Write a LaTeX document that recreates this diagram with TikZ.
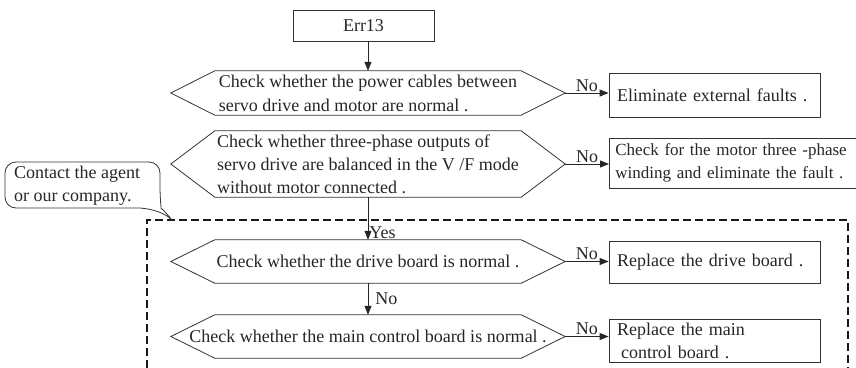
\documentclass[tikz,border=0pt]{standalone}
\usepackage{fontspec}
\setmainfont{Liberation Serif}
\usetikzlibrary{arrows.meta,calc}
\newcommand{\hexout}[1]{\draw[hexline] (#1.west) -- ([xshift=44pt]#1.north west) -- ([xshift=-44pt]#1.north east) -- (#1.east) -- ([xshift=-44pt]#1.south east) -- ([xshift=44pt]#1.south west) -- cycle;}
\begin{document}
\begin{tikzpicture}[x=1pt,y=-1pt,
  every node/.style={font=\fontsize{18}{23}\selectfont, text=black!85},
  hexa/.style={rectangle, minimum width=394pt, inner sep=0pt, align=left},
  hexline/.style={draw=black!80, line width=0.8pt},
  box/.style={rectangle, draw=black!80, line width=0.8pt, minimum width=211pt, text width=195pt, inner xsep=8pt, align=left},
  arr/.style={-{Triangle[length=9pt,width=7pt]}, line width=0.8pt, draw=black!85},
  lbl/.style={inner sep=1pt},
  dashbox/.style={draw=black!90, line width=1.8pt, dash pattern=on 8pt off 4pt},
  bubble/.style={draw=black!80, line width=0.8pt}
]
\clip (0,0) rectangle (856,367);

% dashed region
\draw[dashbox] (147,380) -- (147,220) -- (848,220) -- (848,380);

% callout
\draw[bubble] (140,208) [rounded corners=11pt] -- (5,208) -- (5,162) -- (160,162) -- (160,198) [sharp corners]
  .. controls (161,207) and (167,214) .. (172,220)
  .. controls (165,213) and (153,209) .. (140,208) -- cycle;
\node[align=left, anchor=west, inner sep=0pt] (note) at (14,186) {Contact the agent\\or our company.};

% main nodes
\node[draw=black!80, line width=0.8pt, minimum width=141pt, minimum height=31pt, inner sep=0pt] (err) at (363.5,25.5) {Err13};

\node[hexa, minimum height=44pt, font=\fontsize{18}{24}\selectfont] (c1) at (368,93)
  {Check whether the power cables between\\servo drive and motor are normal .};
\hexout{c1}
\node[box, minimum height=44pt] (r1) at (714.5,95) {Eliminate external faults .};

\node[hexa, minimum height=66pt] (c2) at (368,164)
  {Check whether three-phase outputs of\\servo drive are balanced in the V /F mode\\without motor connected .};
\hexout{c2}
\node[box, anchor=west, minimum width=271pt, text width=259pt, inner xsep=6pt, minimum height=50pt,
      font=\fontsize{17}{23}\selectfont] (r2) at (609,163)
  {Check for the motor three -phase\\winding and eliminate the fault .};

\node[hexa, minimum height=43pt] (c3) at (368,261.5)
  {Check whether the drive board is normal .};
\hexout{c3}
\node[box, minimum height=42pt] (r3) at (714.5,262) {Replace the drive board .};

\node[hexa, minimum height=43pt] (c4) at (368,336.5)
  {Check whether the main control board is normal .};
\hexout{c4}
\node[box, minimum height=43pt] (r4) at (714.5,340.5) {Replace the main\\\hspace*{4pt}control board .};

% connectors
\draw[arr] (c1.north |- err.south) -- (c1.north);
\draw[arr] (c1.east) -- (r1.west |- c1.east) node[midway, above, lbl] {No};
\draw[arr] (c2.east) -- (r2.west |- c2.east) node[midway, above, lbl] {No};
\draw[arr] (c2.south) -- (c3.north) node[pos=0.83, right, lbl] {Yes};
\draw[arr] (c3.east) -- (r3.west |- c3.east) node[midway, above, lbl] {No};
\draw[arr] (c3.south) -- (c4.north) node[midway, right=6pt, lbl] {No};
\draw[arr] (c4.east) -- (r4.west |- c4.east) node[midway, above, lbl] {No};
\end{tikzpicture}
\end{document}
